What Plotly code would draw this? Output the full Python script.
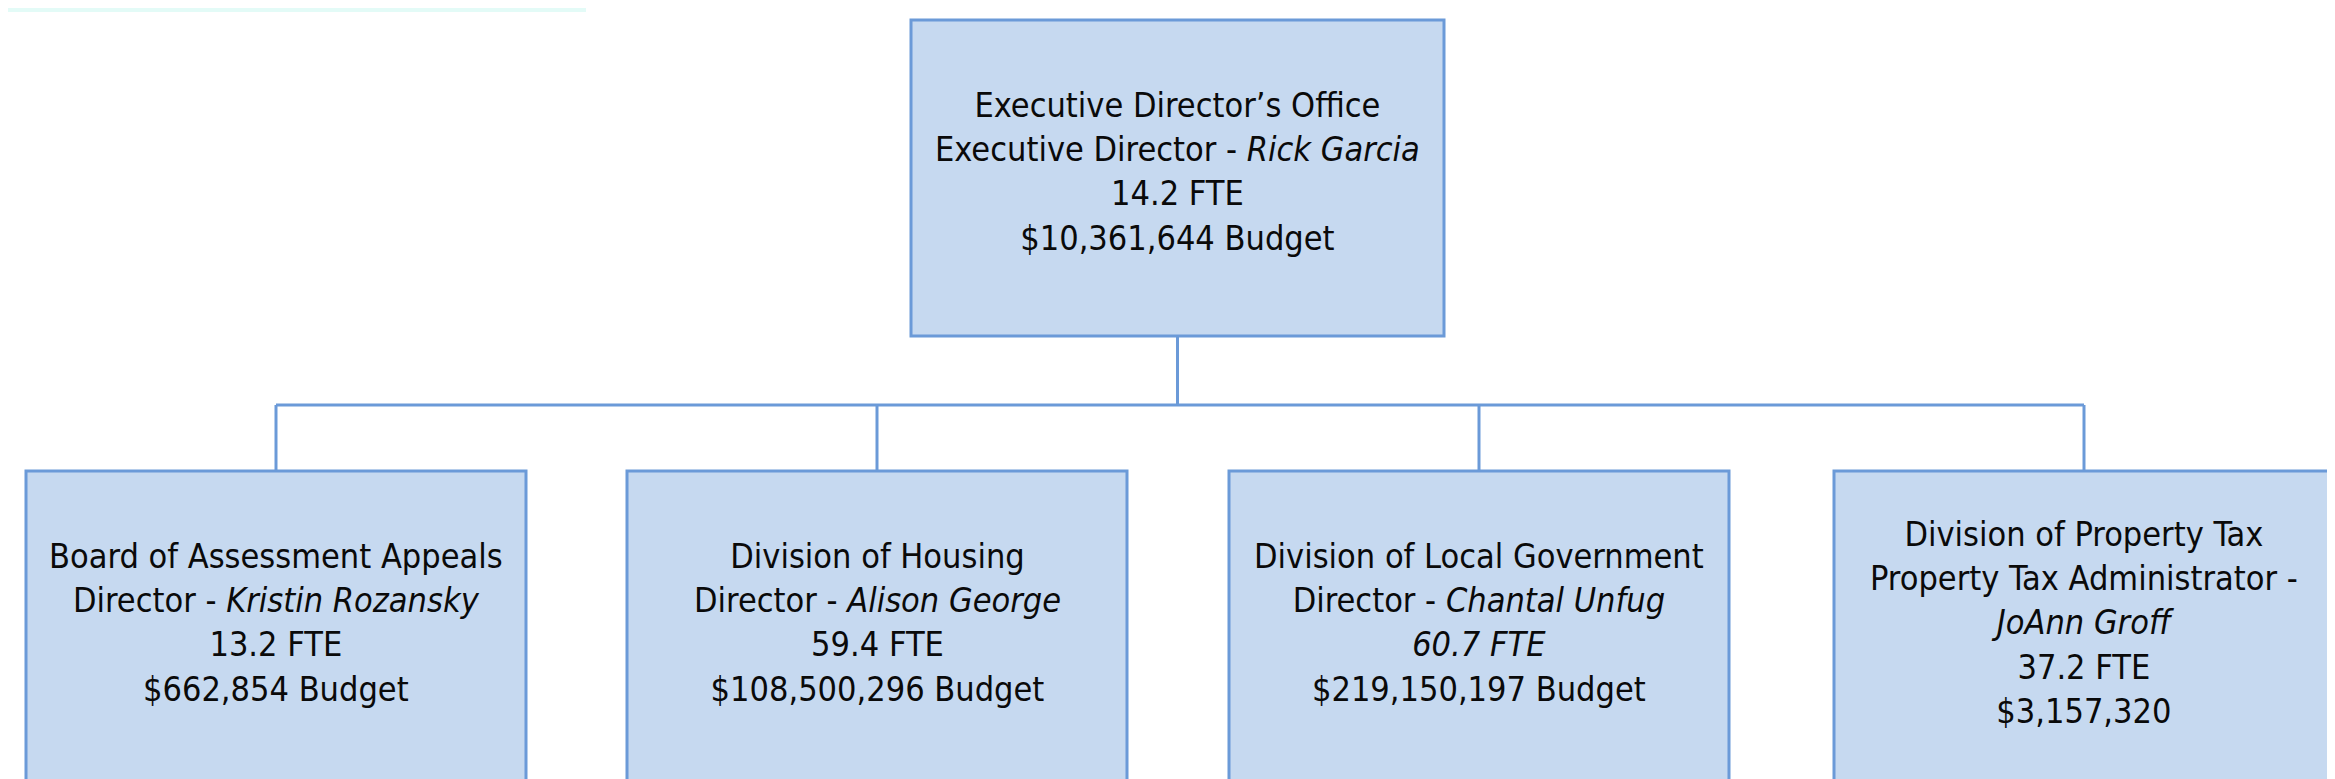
import plotly.graph_objects as go

# ---- data (org chart content) ----
units = [
    "Executive Director’s Office",
    "Board of Assessment Appeals",
    "Division of Housing",
    "Division of Local Government",
    "Division of Property Tax",
]
roles = ["Executive Director", "Director", "Director", "Director", "Property Tax Administrator"]
leaders = ["Rick Garcia", "Kristin Rozansky", "Alison George", "Chantal Unfug", "JoAnn Groff"]
fte = [14.2, 13.2, 59.4, 60.7, 37.2]
budgets = [10361644, 662854, 108500296, 219150197, 3157320]
budget_words = ["Budget", "Budget", "Budget", "Budget", ""]

# ---- layout (pixel geometry) ----
W, H = 2335, 779
FILL = "#c6d9f0"
EDGE = "#6b9ad8"
TEXT = "#0a0a0a"
FONT = "Liberation Sans Narrow, DejaVu Sans Condensed, Arial Narrow, sans-serif"
FS = 34

top_box = dict(x0=903, x1=1436, y0=12, y1=328)
child_left = [18, 619, 1221, 1826]
child_w = 500
child_y0, child_y1 = 463, 800
bus_y = 397
text_lift = 7

fte_italic = [False, False, False, True, False]
name_own_line = [False, False, False, False, True]

boxes = [top_box] + [dict(x0=l, x1=l + child_w, y0=child_y0, y1=child_y1) for l in child_left]

fig = go.Figure()
shapes = []
annotations = []

# faint band at top-left
shapes.append(dict(type="rect", xref="x", yref="y", x0=0, x1=578, y0=0, y1=4,
                   fillcolor="rgba(215,250,244,0.7)", line=dict(width=0), layer="below"))

# connectors
pcx = (top_box["x0"] + top_box["x1"]) / 2
child_centers = [(b["x0"] + b["x1"]) / 2 for b in boxes[1:]]
shapes.append(dict(type="line", xref="x", yref="y", x0=pcx, x1=pcx, y0=top_box["y1"], y1=bus_y,
                   line=dict(color=EDGE, width=3), layer="below"))
shapes.append(dict(type="line", xref="x", yref="y", x0=min(child_centers), x1=max(child_centers),
                   y0=bus_y, y1=bus_y, line=dict(color=EDGE, width=3), layer="below"))
for cx in child_centers:
    shapes.append(dict(type="line", xref="x", yref="y", x0=cx, x1=cx, y0=bus_y, y1=child_y0,
                       line=dict(color=EDGE, width=3), layer="below"))

# boxes and labels
for i, b in enumerate(boxes):
    shapes.append(dict(type="rect", xref="x", yref="y", x0=b["x0"], x1=b["x1"], y0=b["y0"], y1=b["y1"],
                       fillcolor=FILL, line=dict(color=EDGE, width=3), layer="below"))
    lines = [units[i]]
    if name_own_line[i]:
        lines.append(f"{roles[i]} -")
        lines.append(f"<i>{leaders[i]}</i>")
    else:
        lines.append(f"{roles[i]} - <i>{leaders[i]}</i>")
    f = f"{fte[i]:.1f} FTE"
    lines.append(f"<i>{f}</i>" if fte_italic[i] else f)
    bl = f"${budgets[i]:,}"
    if budget_words[i]:
        bl += " " + budget_words[i]
    lines.append(bl)
    cy = (b["y0"] + min(b["y1"], H)) / 2 - text_lift
    annotations.append(dict(x=(b["x0"] + b["x1"]) / 2, y=cy, xref="x", yref="y",
                            text="<br>".join(lines), showarrow=False,
                            xanchor="center", yanchor="middle", align="center",
                            font=dict(family=FONT, size=FS, color=TEXT)))

fig.update_layout(
    width=W, height=H,
    margin=dict(l=0, r=0, t=0, b=0),
    paper_bgcolor="white", plot_bgcolor="white",
    xaxis=dict(range=[0, W], visible=False, fixedrange=True),
    yaxis=dict(range=[H, 0], visible=False, fixedrange=True),
    shapes=shapes, annotations=annotations,
    showlegend=False,
)

fig.write_html("out.html")
